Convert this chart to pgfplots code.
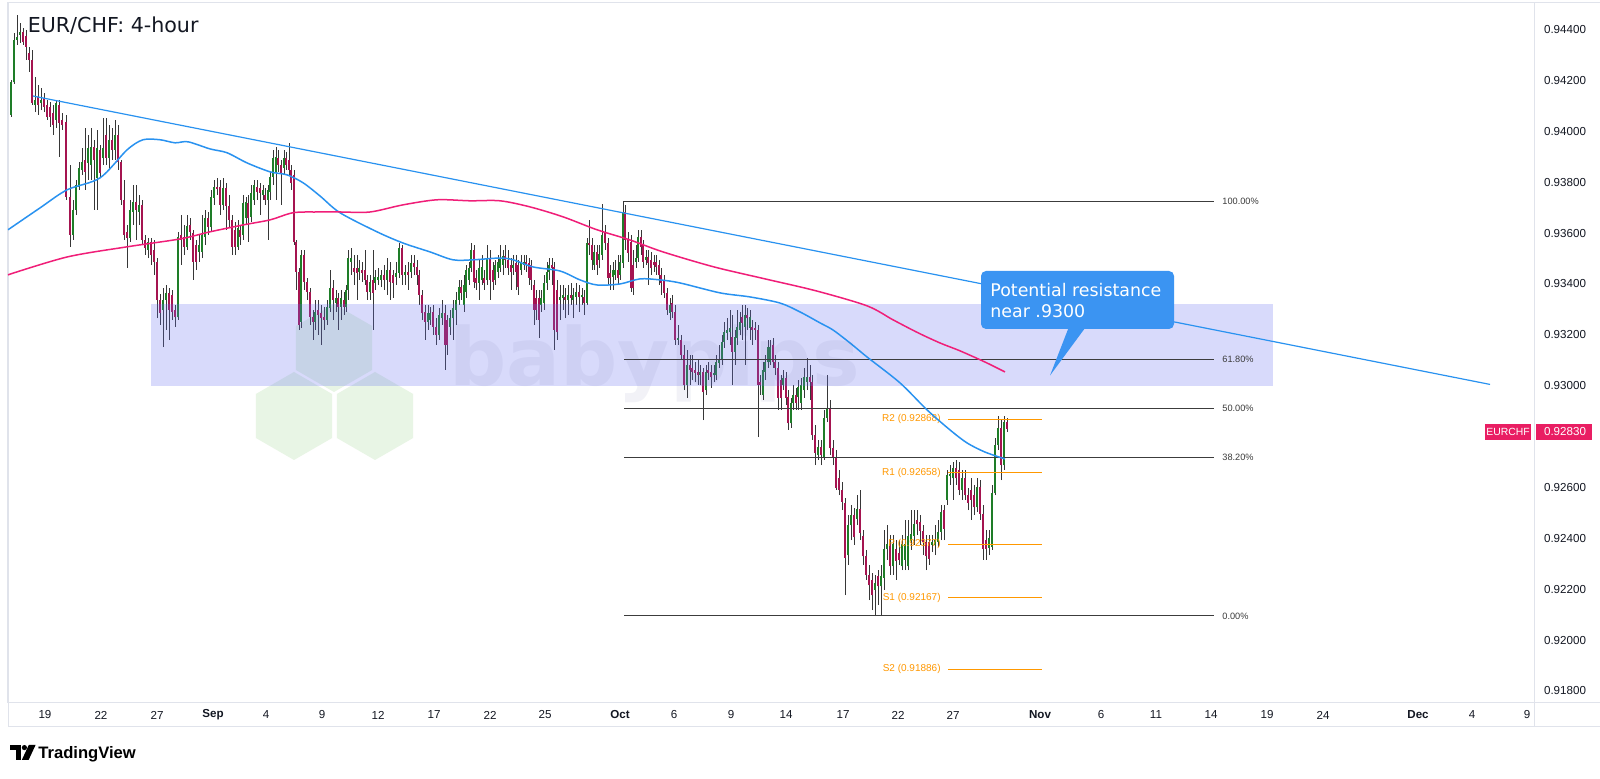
\documentclass[border=0pt]{standalone}
\usepackage{pgfplots}
\pgfplotsset{compat=1.18}
\usepackage{pgfplotstable}
\usetikzlibrary{shapes.geometric}
\usepackage{fontspec}
\setmainfont{Liberation Sans}
\newfontfamily\dejavu{DejaVu Sans}
\definecolor{tvgreen}{RGB}{30,125,40}
\definecolor{tvred}{RGB}{165,20,80}
\definecolor{wick}{RGB}{55,55,55}
\definecolor{mablue}{RGB}{41,146,240}
\definecolor{mapink}{RGB}{240,30,120}
\definecolor{zone}{RGB}{100,110,240}
\definecolor{framec}{RGB}{224,227,235}
\definecolor{pivot}{RGB}{255,152,0}
\definecolor{fibc}{RGB}{60,60,60}
\definecolor{callout}{RGB}{59,148,242}
\definecolor{tagc}{RGB}{233,30,99}
\definecolor{txt}{RGB}{19,23,34}
\definecolor{hexg}{RGB}{232,245,229}

\pgfplotstableread{
x o h l c
11 0.94065 0.94202 0.94057 0.94194
14 0.94194 0.94387 0.94187 0.94360
17 0.94360 0.94458 0.94340 0.94371
20 0.94379 0.94426 0.94348 0.94391
23 0.94391 0.94407 0.94340 0.94352
26 0.94375 0.94399 0.94281 0.94332
29 0.94308 0.94332 0.94234 0.94281
32 0.94281 0.94320 0.94104 0.94112
35 0.94104 0.94214 0.94076 0.94124
38 0.94135 0.94183 0.94065 0.94104
41 0.94112 0.94171 0.94084 0.94124
44 0.94131 0.94151 0.94076 0.94096
47 0.94104 0.94124 0.94045 0.94057
50 0.94096 0.94116 0.94018 0.94057
53 0.94073 0.94104 0.93986 0.94026
56 0.94045 0.94124 0.94014 0.94112
59 0.94104 0.94124 0.93900 0.94034
62 0.94045 0.94073 0.94006 0.94026
66 0.94037 0.94065 0.93731 0.93742
70 0.93742 0.93868 0.93546 0.93593
73 0.93593 0.93731 0.93573 0.93691
76 0.93691 0.93809 0.93672 0.93790
79 0.93782 0.93880 0.93770 0.93856
82 0.93849 0.93935 0.93829 0.93880
85 0.93888 0.94014 0.93770 0.93841
88 0.93876 0.93986 0.93809 0.93935
91 0.93868 0.94014 0.93809 0.93939
94 0.93939 0.93967 0.93691 0.93888
97 0.93817 0.94006 0.93691 0.93935
100 0.93927 0.93947 0.93817 0.93837
103 0.93896 0.94053 0.93868 0.93935
106 0.93986 0.94053 0.93868 0.93896
109 0.93896 0.94026 0.93849 0.93967
112 0.93967 0.94014 0.93888 0.93927
115 0.93927 0.94045 0.93888 0.93986
118 0.93986 0.94026 0.93849 0.93880
121 0.93880 0.93888 0.93711 0.93731
124 0.93731 0.93809 0.93573 0.93593
127 0.93605 0.93632 0.93463 0.93581
130 0.93581 0.93731 0.93565 0.93691
133 0.93683 0.93790 0.93632 0.93723
136 0.93723 0.93790 0.93573 0.93691
139 0.93683 0.93750 0.93632 0.93711
142 0.93711 0.93731 0.93554 0.93573
145 0.93573 0.93593 0.93514 0.93542
148 0.93534 0.93581 0.93502 0.93565
151 0.93565 0.93581 0.93475 0.93514
154 0.93534 0.93573 0.93436 0.93487
157 0.93487 0.93502 0.93266 0.93337
160 0.93337 0.93360 0.93239 0.93286
163 0.93298 0.93384 0.93152 0.93337
166 0.93337 0.93396 0.93219 0.93365
169 0.93365 0.93384 0.93180 0.93298
172 0.93357 0.93377 0.93259 0.93290
175 0.93298 0.93318 0.93231 0.93270
178 0.93270 0.93605 0.93259 0.93585
181 0.93593 0.93672 0.93475 0.93573
184 0.93585 0.93632 0.93514 0.93546
187 0.93546 0.93672 0.93534 0.93628
190 0.93632 0.93660 0.93573 0.93605
193 0.93601 0.93613 0.93416 0.93487
196 0.93554 0.93573 0.93455 0.93487
199 0.93526 0.93593 0.93487 0.93554
202 0.93526 0.93672 0.93502 0.93593
205 0.93585 0.93691 0.93554 0.93660
208 0.93660 0.93683 0.93593 0.93624
211 0.93624 0.93770 0.93605 0.93742
214 0.93738 0.93809 0.93711 0.93782
217 0.93782 0.93817 0.93750 0.93774
220 0.93782 0.93809 0.93672 0.93711
223 0.93711 0.93817 0.93691 0.93778
226 0.93778 0.93797 0.93613 0.93707
229 0.93707 0.93750 0.93620 0.93652
232 0.93652 0.93672 0.93514 0.93546
235 0.93613 0.93644 0.93514 0.93546
238 0.93546 0.93652 0.93534 0.93620
240 0.93613 0.93632 0.93554 0.93585
243 0.93593 0.93750 0.93573 0.93719
246 0.93660 0.93742 0.93632 0.93723
248 0.93719 0.93750 0.93565 0.93660
251 0.93664 0.93790 0.93644 0.93758
254 0.93731 0.93809 0.93711 0.93790
257 0.93782 0.93809 0.93731 0.93762
260 0.93778 0.93797 0.93672 0.93758
263 0.93750 0.93790 0.93731 0.93770
265 0.93750 0.93778 0.93711 0.93731
268 0.93731 0.93790 0.93573 0.93770
270 0.93762 0.93841 0.93731 0.93821
273 0.93821 0.93927 0.93790 0.93896
276 0.93837 0.93939 0.93731 0.93900
278 0.93896 0.93927 0.93841 0.93868
281 0.93868 0.93888 0.93711 0.93837
284 0.93856 0.93927 0.93829 0.93896
286 0.93896 0.93919 0.93849 0.93868
289 0.93888 0.93955 0.93829 0.93849
291 0.93849 0.93868 0.93770 0.93798
294 0.93829 0.93849 0.93554 0.93565
296 0.93565 0.93573 0.93377 0.93448
299 0.93448 0.93463 0.93219 0.93239
301 0.93251 0.93534 0.93227 0.93514
304 0.93514 0.93534 0.93377 0.93408
307 0.93408 0.93424 0.93337 0.93369
310 0.93369 0.93384 0.93239 0.93270
313 0.93270 0.93298 0.93180 0.93251
315 0.93251 0.93337 0.93219 0.93290
318 0.93298 0.93337 0.93200 0.93278
321 0.93286 0.93318 0.93160 0.93266
324 0.93270 0.93310 0.93219 0.93259
327 0.93259 0.93337 0.93239 0.93310
330 0.93306 0.93455 0.93290 0.93384
333 0.93384 0.93416 0.93259 0.93337
336 0.93325 0.93377 0.93290 0.93345
338 0.93345 0.93365 0.93219 0.93310
341 0.93310 0.93377 0.93259 0.93345
344 0.93337 0.93369 0.93278 0.93310
346 0.93310 0.93396 0.93290 0.93377
348 0.93377 0.93534 0.93337 0.93502
351 0.93487 0.93542 0.93436 0.93502
354 0.93463 0.93514 0.93396 0.93448
357 0.93463 0.93514 0.93337 0.93444
359 0.93448 0.93495 0.93416 0.93463
362 0.93455 0.93487 0.93408 0.93444
365 0.93455 0.93534 0.93396 0.93416
367 0.93416 0.93436 0.93337 0.93369
370 0.93369 0.93436 0.93337 0.93408
373 0.93416 0.93534 0.93219 0.93365
375 0.93404 0.93455 0.93377 0.93428
378 0.93416 0.93463 0.93396 0.93428
381 0.93416 0.93455 0.93388 0.93436
384 0.93436 0.93475 0.93377 0.93416
387 0.93416 0.93502 0.93357 0.93455
390 0.93455 0.93487 0.93337 0.93408
393 0.93436 0.93455 0.93345 0.93404
396 0.93428 0.93487 0.93396 0.93444
399 0.93444 0.93561 0.93424 0.93542
402 0.93542 0.93554 0.93396 0.93436
405 0.93436 0.93475 0.93396 0.93448
408 0.93448 0.93487 0.93377 0.93436
411 0.93448 0.93514 0.93424 0.93483
414 0.93483 0.93514 0.93436 0.93467
417 0.93467 0.93495 0.93396 0.93436
419 0.93436 0.93455 0.93318 0.93357
422 0.93357 0.93377 0.93259 0.93286
425 0.93290 0.93318 0.93180 0.93251
428 0.93251 0.93318 0.93219 0.93286
430 0.93259 0.93310 0.93239 0.93286
433 0.93290 0.93318 0.93200 0.93231
436 0.93231 0.93266 0.93160 0.93200
439 0.93200 0.93306 0.93180 0.93278
442 0.93266 0.93337 0.93239 0.93286
445 0.93286 0.93318 0.93062 0.93160
447 0.93259 0.93278 0.93121 0.93160
450 0.93231 0.93298 0.93200 0.93266
453 0.93266 0.93337 0.93180 0.93306
456 0.93298 0.93369 0.93239 0.93337
459 0.93337 0.93416 0.93318 0.93388
461 0.93388 0.93416 0.93337 0.93365
464 0.93318 0.93436 0.93290 0.93396
466 0.93369 0.93475 0.93345 0.93455
469 0.93416 0.93487 0.93396 0.93463
471 0.93463 0.93561 0.93448 0.93534
474 0.93534 0.93554 0.93384 0.93408
476 0.93424 0.93455 0.93377 0.93404
479 0.93404 0.93495 0.93337 0.93463
482 0.93416 0.93514 0.93396 0.93467
484 0.93424 0.93455 0.93377 0.93404
487 0.93416 0.93554 0.93396 0.93502
490 0.93502 0.93534 0.93337 0.93416
493 0.93455 0.93487 0.93377 0.93408
495 0.93416 0.93495 0.93396 0.93475
498 0.93448 0.93514 0.93424 0.93487
500 0.93463 0.93554 0.93448 0.93502
503 0.93475 0.93534 0.93436 0.93510
505 0.93510 0.93554 0.93463 0.93495
508 0.93495 0.93534 0.93436 0.93463
511 0.93475 0.93502 0.93377 0.93448
513 0.93463 0.93514 0.93436 0.93475
516 0.93483 0.93514 0.93377 0.93448
518 0.93475 0.93495 0.93357 0.93388
521 0.93455 0.93514 0.93436 0.93483
524 0.93475 0.93514 0.93455 0.93487
526 0.93487 0.93514 0.93448 0.93475
529 0.93483 0.93502 0.93396 0.93424
531 0.93475 0.93495 0.93377 0.93416
534 0.93396 0.93416 0.93239 0.93298
536 0.93345 0.93377 0.93259 0.93298
539 0.93345 0.93377 0.93188 0.93259
541 0.93318 0.93377 0.93290 0.93345
544 0.93325 0.93436 0.93298 0.93404
547 0.93404 0.93487 0.93377 0.93448
549 0.93448 0.93502 0.93416 0.93475
552 0.93475 0.93502 0.93396 0.93463
554 0.93467 0.93487 0.93141 0.93219
557 0.93377 0.93416 0.93180 0.93211
560 0.93337 0.93396 0.93259 0.93349
563 0.93345 0.93396 0.93298 0.93357
565 0.93349 0.93384 0.93266 0.93337
568 0.93337 0.93396 0.93278 0.93357
571 0.93357 0.93404 0.93318 0.93345
573 0.93337 0.93384 0.93266 0.93357
576 0.93349 0.93404 0.93318 0.93369
579 0.93369 0.93396 0.93290 0.93349
582 0.93349 0.93384 0.93318 0.93357
584 0.93349 0.93377 0.93278 0.93325
587 0.93325 0.93581 0.93318 0.93561
589 0.93561 0.93652 0.93514 0.93554
592 0.93554 0.93581 0.93455 0.93495
594 0.93475 0.93554 0.93455 0.93526
597 0.93526 0.93554 0.93436 0.93475
599 0.93495 0.93554 0.93463 0.93518
602 0.93514 0.93715 0.93495 0.93593
605 0.93601 0.93632 0.93534 0.93561
608 0.93561 0.93581 0.93396 0.93424
610 0.93444 0.93475 0.93377 0.93424
613 0.93428 0.93487 0.93377 0.93455
615 0.93436 0.93495 0.93416 0.93455
618 0.93455 0.93514 0.93396 0.93424
620 0.93436 0.93514 0.93416 0.93487
623 0.93483 0.93727 0.93463 0.93683
625 0.93683 0.93711 0.93534 0.93573
628 0.93573 0.93605 0.93487 0.93522
631 0.93565 0.93593 0.93369 0.93384
633 0.93475 0.93534 0.93357 0.93384
636 0.93487 0.93554 0.93463 0.93502
638 0.93502 0.93613 0.93487 0.93585
641 0.93585 0.93613 0.93514 0.93546
643 0.93554 0.93573 0.93463 0.93487
646 0.93495 0.93534 0.93475 0.93506
648 0.93506 0.93534 0.93396 0.93483
651 0.93495 0.93526 0.93436 0.93463
654 0.93487 0.93514 0.93448 0.93475
656 0.93487 0.93514 0.93436 0.93467
659 0.93475 0.93495 0.93396 0.93436
661 0.93436 0.93463 0.93357 0.93404
664 0.93416 0.93436 0.93345 0.93365
667 0.93365 0.93384 0.93278 0.93298
670 0.93286 0.93345 0.93259 0.93318
672 0.93325 0.93357 0.93266 0.93290
675 0.93290 0.93318 0.93160 0.93180
678 0.93180 0.93239 0.93160 0.93188
681 0.93180 0.93200 0.93101 0.93121
684 0.93121 0.93160 0.92983 0.93003
687 0.93003 0.93141 0.92952 0.93082
690 0.93082 0.93121 0.93003 0.93062
692 0.93070 0.93121 0.93023 0.93054
695 0.93062 0.93093 0.93015 0.93050
698 0.93054 0.93101 0.93003 0.93042
700 0.93042 0.93082 0.93003 0.93054
703 0.93054 0.93070 0.92865 0.92975
706 0.92983 0.93082 0.92964 0.93054
708 0.93062 0.93093 0.93023 0.93050
711 0.93054 0.93082 0.92991 0.93034
714 0.93042 0.93082 0.93015 0.93050
716 0.93042 0.93121 0.93023 0.93093
719 0.93089 0.93160 0.93070 0.93101
722 0.93101 0.93200 0.93082 0.93172
724 0.93172 0.93251 0.93149 0.93211
727 0.93208 0.93266 0.93180 0.93219
730 0.93211 0.93298 0.93160 0.93227
732 0.93192 0.93278 0.93003 0.93133
735 0.93133 0.93219 0.93082 0.93192
737 0.93188 0.93298 0.93160 0.93231
740 0.93219 0.93290 0.93200 0.93251
742 0.93270 0.93318 0.93180 0.93247
745 0.93231 0.93318 0.93082 0.93278
747 0.93278 0.93306 0.93219 0.93266
750 0.93227 0.93298 0.93180 0.93270
752 0.93231 0.93259 0.93160 0.93219
755 0.93227 0.93251 0.93180 0.93219
758 0.93219 0.93239 0.92798 0.93003
760 0.93015 0.93042 0.92964 0.93003
763 0.92964 0.93093 0.92944 0.93062
765 0.93054 0.93121 0.93023 0.93093
768 0.93093 0.93180 0.93070 0.93152
770 0.93093 0.93180 0.93082 0.93152
773 0.93160 0.93188 0.93070 0.93093
775 0.93093 0.93121 0.93042 0.93070
778 0.93070 0.93093 0.92905 0.92952
781 0.93023 0.93042 0.92905 0.92952
783 0.93003 0.93062 0.92983 0.93030
786 0.93030 0.93054 0.92924 0.92952
788 0.92956 0.92983 0.92826 0.92853
791 0.92853 0.92952 0.92834 0.92932
793 0.92932 0.93003 0.92905 0.92964
796 0.92964 0.92991 0.92905 0.92932
798 0.92956 0.93023 0.92905 0.92995
801 0.92932 0.93030 0.92905 0.93003
804 0.92983 0.93070 0.92952 0.93034
807 0.93015 0.93109 0.92983 0.93034
810 0.93034 0.93082 0.92944 0.93015
812 0.93015 0.93042 0.92787 0.92806
815 0.92806 0.92846 0.92688 0.92736
818 0.92728 0.92787 0.92708 0.92759
821 0.92759 0.92787 0.92688 0.92728
824 0.92716 0.92905 0.92708 0.92873
827 0.92873 0.93042 0.92857 0.92912
830 0.92912 0.92944 0.92728 0.92755
833 0.92755 0.92787 0.92688 0.92716
836 0.92716 0.92747 0.92590 0.92598
839 0.92637 0.92669 0.92570 0.92590
842 0.92590 0.92621 0.92511 0.92543
845 0.92539 0.92559 0.92177 0.92323
848 0.92334 0.92492 0.92295 0.92452
851 0.92452 0.92531 0.92393 0.92492
854 0.92492 0.92519 0.92374 0.92405
857 0.92476 0.92570 0.92452 0.92515
860 0.92515 0.92590 0.92393 0.92421
863 0.92409 0.92433 0.92295 0.92330
866 0.92330 0.92354 0.92236 0.92256
869 0.92256 0.92295 0.92157 0.92216
872 0.92236 0.92263 0.92118 0.92177
875 0.92197 0.92256 0.92094 0.92224
878 0.92252 0.92275 0.92138 0.92212
881 0.92212 0.92295 0.92094 0.92252
884 0.92244 0.92433 0.92197 0.92358
887 0.92358 0.92452 0.92315 0.92378
890 0.92378 0.92413 0.92256 0.92291
893 0.92291 0.92413 0.92256 0.92378
896 0.92358 0.92393 0.92236 0.92311
899 0.92342 0.92393 0.92295 0.92315
902 0.92291 0.92413 0.92275 0.92378
905 0.92315 0.92472 0.92275 0.92378
908 0.92291 0.92472 0.92275 0.92409
911 0.92389 0.92511 0.92354 0.92417
914 0.92409 0.92511 0.92374 0.92456
917 0.92472 0.92511 0.92413 0.92456
920 0.92464 0.92492 0.92374 0.92429
923 0.92429 0.92452 0.92334 0.92386
926 0.92386 0.92413 0.92275 0.92330
929 0.92386 0.92413 0.92295 0.92319
932 0.92374 0.92413 0.92346 0.92386
935 0.92374 0.92452 0.92334 0.92393
938 0.92386 0.92472 0.92366 0.92425
941 0.92425 0.92531 0.92393 0.92503
944 0.92511 0.92531 0.92393 0.92437
947 0.92551 0.92669 0.92531 0.92649
950 0.92645 0.92688 0.92610 0.92653
953 0.92637 0.92700 0.92551 0.92676
956 0.92676 0.92708 0.92610 0.92637
959 0.92669 0.92700 0.92570 0.92590
962 0.92590 0.92669 0.92551 0.92637
965 0.92637 0.92669 0.92551 0.92570
968 0.92570 0.92598 0.92511 0.92539
971 0.92590 0.92637 0.92472 0.92551
974 0.92570 0.92610 0.92492 0.92523
977 0.92523 0.92637 0.92503 0.92602
980 0.92602 0.92629 0.92472 0.92496
983 0.92496 0.92531 0.92315 0.92358
986 0.92393 0.92433 0.92315 0.92358
989 0.92362 0.92433 0.92334 0.92401
992 0.92366 0.92610 0.92354 0.92578
995 0.92578 0.92794 0.92570 0.92767
998 0.92767 0.92881 0.92747 0.92834
1001 0.92834 0.92865 0.92629 0.92688
1004 0.92688 0.92881 0.92669 0.92857
1007 0.92857 0.92873 0.92818 0.92830
}\candles

\begin{document}
\begin{tikzpicture}
\fill[white] (0pt,0pt) rectangle (800pt,389.5pt);
\useasboundingbox (0pt,0pt) rectangle (800pt,389.5pt);
% watermark hexagons (behind everything)
\foreach \cx/\cy in {167/215.5, 147/181.5, 187.5/181.5}{
  \node[regular polygon, regular polygon sides=6, shape border rotate=30,
        minimum size=44pt, inner sep=0pt, fill=hexg, draw=none] at (\cx pt,\cy pt) {};
}
% frame
\draw[framec, line width=0.5pt] (4pt,388pt) -- (800pt,388pt);
\draw[framec, line width=0.5pt] (4pt,38pt) -- (800pt,38pt);
\draw[framec, line width=0.5pt] (4pt,26pt) -- (800pt,26pt);
\draw[framec, line width=0.5pt] (4pt,26pt) -- (4pt,388pt);
\draw[framec, line width=0.5pt] (767pt,26pt) -- (767pt,388pt);
\begin{axis}[
  at={(4pt,38pt)}, anchor=south west,
  width=763pt, height=350pt, scale only axis,
  xmin=8, xmax=1534, ymin=0.917524, ymax=0.945048,
  axis line style={draw=framec, line width=0.5pt},
  major tick length=0pt,
  xtick={45,101,157,213,266,322,378,434,490,545,620,674,731,786,843,898,953,1040,1101,1156,1211,1267,1323,1418,1472,1527},
  xticklabels={19,22,27,\textbf{Sep},4,9,12,17,22,25,\textbf{Oct},6,9,14,17,22,27,\textbf{Nov},6,11,14,19,24,\textbf{Dec},4,9},
  xticklabel style={anchor=center, yshift=-6pt, font=\fontsize{5.8}{7}\selectfont, text=txt},
  ytick={0.918,0.920,0.922,0.924,0.926,0.930,0.932,0.934,0.936,0.938,0.940,0.942,0.944},
  yticklabels={0.91800,0.92000,0.92200,0.92400,0.92600,0.93000,0.93200,0.93400,0.93600,0.93800,0.94000,0.94200,0.94400},
  yticklabel pos=right,
  yticklabel style={anchor=center, xshift=15.5pt, font=\fontsize{5.8}{7}\selectfont, text=txt},
]
% candles: wicks
\addplot[draw=none, mark=none, forget plot,
  error bars/.cd, y dir=plus, y explicit, error mark=none,
  error bar style={draw=wick, line width=0.45pt}]
  table[x=x, y=l, y error plus expr={\thisrow{h}-\thisrow{l}}] {\candles};
% bodies: dark outline
\addplot[draw=none, mark=none, forget plot,
  error bars/.cd, y dir=plus, y explicit, error mark=none,
  error bar style={draw=black!85, line width=1.25pt}]
  table[x=x, y expr={min(\thisrow{o},\thisrow{c})}, y error plus expr={abs(\thisrow{c}-\thisrow{o})}] {\candles};
% bodies: up
\addplot[draw=none, mark=none, forget plot,
  error bars/.cd, y dir=plus, y explicit, error mark=none,
  error bar style={draw=tvgreen, line width=0.8pt}]
  table[x=x, y=o, y error plus expr={max(\thisrow{c}-\thisrow{o},0)}] {\candles};
% bodies: down
\addplot[draw=none, mark=none, forget plot,
  error bars/.cd, y dir=plus, y explicit, error mark=none,
  error bar style={draw=tvred, line width=0.8pt}]
  table[x=x, y=c, y error plus expr={max(\thisrow{o}-\thisrow{c},0)}] {\candles};

% resistance zone
\fill[zone, opacity=0.25] (axis cs:151,0.93000) rectangle (axis cs:1273,0.93320);

% Fibonacci levels
\addplot[fibc, line width=0.5pt] coordinates {(624,0.93725) (1214,0.93725)};
\addplot[fibc, line width=0.5pt] coordinates {(624,0.93102) (1214,0.93102)};
\addplot[fibc, line width=0.5pt] coordinates {(624,0.92910) (1214,0.92910)};
\addplot[fibc, line width=0.5pt] coordinates {(624,0.92718) (1214,0.92718)};
\addplot[fibc, line width=0.5pt] coordinates {(624,0.92095) (1214,0.92095)};
\begin{scope}[every node/.style={anchor=west, inner sep=0pt, font=\fontsize{4.6}{5}\selectfont, text=fibc}]
\node at (axis cs:1222,0.93725) {100.00\%};
\node at (axis cs:1222,0.93102) {61.80\%};
\node at (axis cs:1222,0.92910) {50.00\%};
\node at (axis cs:1222,0.92718) {38.20\%};
\node at (axis cs:1222,0.92095) {0.00\%};
\end{scope}

% Pivot levels
\addplot[pivot, line width=0.5pt] coordinates {(948,0.92868) (1042,0.92868)};
\addplot[pivot, line width=0.8pt] coordinates {(948,0.92658) (1042,0.92658)};
\addplot[pivot, line width=0.5pt] coordinates {(948,0.92377) (1042,0.92377)};
\addplot[pivot, line width=0.5pt] coordinates {(948,0.92167) (1042,0.92167)};
\addplot[pivot, line width=0.5pt] coordinates {(948,0.91886) (1042,0.91886)};
\begin{scope}[every node/.style={anchor=east, inner sep=0pt, font=\fontsize{5}{6}\selectfont, text=pivot}]
\node at (axis cs:941,0.92868) {R2 (0.92868)};
\node at (axis cs:941,0.92658) {R1 (0.92658)};
\node at (axis cs:941,0.92377) {P (0.92377)};
\node at (axis cs:941,0.92167) {S1 (0.92167)};
\node at (axis cs:941,0.91886) {S2 (0.91886)};
\end{scope}

% trendline
\addplot[mablue, line width=0.6pt] coordinates {(33,0.94139) (1490,0.93005)};

% moving averages
\addplot[mablue, line width=0.75pt, smooth] coordinates {
(8,0.93613) (40,0.93699) (67,0.93770) (100,0.93817) (127,0.93927) (143,0.93967)
(160,0.93967) (175,0.93955) (188,0.93959) (210,0.93931) (227,0.93916) (247,0.93876)
(270,0.93841) (287,0.93829) (303,0.93798) (320,0.93746) (340,0.93680) (377,0.93605)
(403,0.93561) (430,0.93526) (453,0.93495) (473,0.93495) (500,0.93502) (513,0.93495)
(533,0.93467) (560,0.93451) (580,0.93416) (597,0.93396) (620,0.93400) (640,0.93420)
(660,0.93416) (680,0.93404) (720,0.93365) (750,0.93349) (780,0.93325) (800,0.93290)
(820,0.93247) (833,0.93219) (850,0.93168) (867,0.93113) (900,0.93011) (927,0.92905)
(950,0.92826) (967,0.92775) (985,0.92739) (1005,0.92712)};
\addplot[mapink, line width=0.75pt, smooth] coordinates {
(8,0.93436) (67,0.93506) (127,0.93546) (180,0.93577) (210,0.93605) (243,0.93632)
(270,0.93652) (293,0.93680) (317,0.93683) (340,0.93683) (370,0.93683) (403,0.93711)
(437,0.93731) (470,0.93727) (500,0.93727) (530,0.93703) (563,0.93664) (597,0.93613)
(630,0.93573) (663,0.93526) (714,0.93467) (765,0.93420) (816,0.93373) (867,0.93314)
(893,0.93259) (918,0.93208) (940,0.93168) (960,0.93137) (985,0.93093) (1005,0.93054)};

% callout
\fill[callout] (axis cs:1069,0.93232) -- (axis cs:1086,0.93232) -- (axis cs:1050,0.93040) -- cycle;
\fill[callout, rounded corners=2.5pt] (axis cs:981,0.93451) rectangle (axis cs:1174,0.93223);
\node[anchor=west, inner sep=0pt, align=left, text=white,
      font=\dejavu\fontsize{8.7}{10.5}\selectfont] at (axis cs:990,0.93335)
      {Potential resistance\\near .9300};
\end{axis}
% babypips watermark
\node[anchor=base west, inner sep=0pt, text={rgb,255:red,90;green,95;blue,160}, text opacity=0.08,
      font=\dejavu\bfseries\fontsize{40}{40}\selectfont] at (224.5pt,196.5pt) {babypips};
% title
\node[anchor=base west, inner sep=0pt, text=txt, font=\dejavu\fontsize{10.3}{12}\selectfont]
  at (13.7pt,373pt) {EUR/CHF: 4-hour};
% price tag
\fill[tagc] (742.5pt,169.5pt) rectangle (765.5pt,177.5pt);
\fill[tagc] (768pt,169.5pt) rectangle (796pt,177.5pt);
\node[text=white, inner sep=0pt, font=\fontsize{5.2}{6}\selectfont] at (754pt,173.5pt) {EURCHF};
\node[text=white, inner sep=0pt, font=\fontsize{5.8}{7}\selectfont] at (782.5pt,173.5pt) {0.92830};
% TradingView logo
\fill[black] (5pt,14.6pt) rectangle (10.4pt,17pt);
\fill[black] (8pt,9.5pt) rectangle (10.4pt,17pt);
\fill[black] (12.2pt,15.7pt) circle (1.3pt);
\fill[black] (14.4pt,17pt) -- (17.8pt,17pt) -- (14.3pt,9.5pt) -- (10.9pt,9.5pt) -- cycle;
\node[anchor=base west, inner sep=0pt, font=\bfseries\fontsize{8.3}{10}\selectfont, text=black]
  at (19pt,10pt) {TradingView};
\end{tikzpicture}
\end{document}
